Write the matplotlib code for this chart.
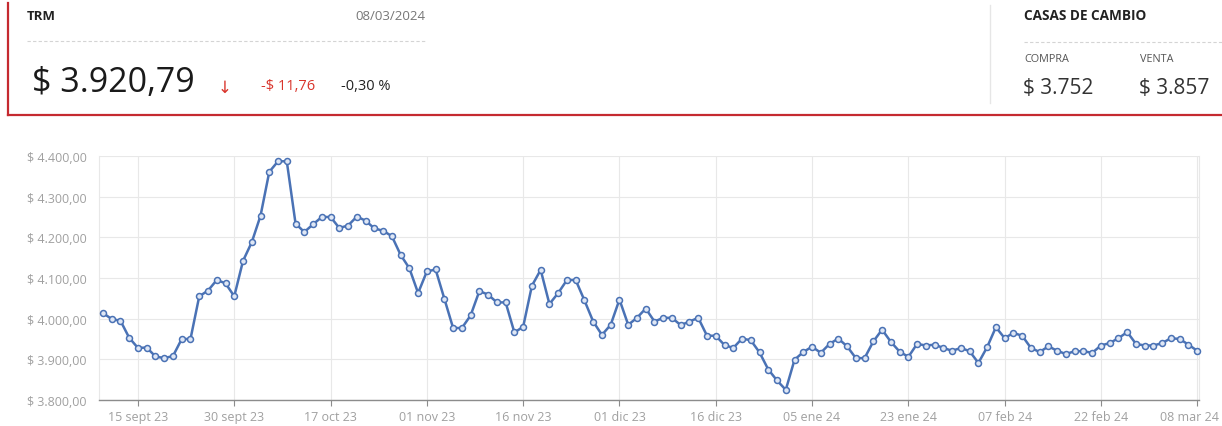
import matplotlib
matplotlib.use("Agg")
import matplotlib.pyplot as plt
from matplotlib.lines import Line2D
import matplotlib.transforms as mtransforms
import numpy as np

plt.rcParams['font.family'] = ['Open Sans', 'DejaVu Sans']

# ---- data ----
trm_values = [4014, 3999, 3995, 3953, 3928, 3929, 3907, 3903, 3908, 3950,
              3950, 4055, 4069, 4095, 4087, 4055, 4142, 4188, 4253, 4361,
              4387, 4387, 4234, 4213, 4232, 4250, 4250, 4223, 4229, 4251,
              4241, 4222, 4216, 4203, 4157, 4124, 4063, 4116, 4121, 4049,
              3977, 3977, 4008, 4068, 4059, 4040, 4040, 3966, 3980, 4081,
              4120, 4036, 4063, 4095, 4095, 4045, 3993, 3960, 3985, 4047,
              3985, 4002, 4025, 3993, 4002, 4002, 3984, 3993, 4002, 3958,
              3958, 3935, 3928, 3951, 3947, 3917, 3875, 3848, 3825, 3899,
              3918, 3931, 3916, 3938, 3951, 3932, 3903, 3903, 3944, 3973,
              3943, 3919, 3906, 3938, 3934, 3936, 3928, 3921, 3928, 3920,
              3891, 3930, 3979, 3952, 3965, 3958, 3928, 3918, 3932, 3921,
              3913, 3920, 3920, 3916, 3934, 3940, 3952, 3967, 3938, 3934,
              3934, 3940, 3952, 3950, 3936, 3921]
tick_labels = ["15 sept 23", "30 sept 23", "17 oct 23", "01 nov 23", "16 nov 23",
               "01 dic 23", "16 dic 23", "05 ene 24", "23 ene 24", "07 feb 24",
               "22 feb 24", "08 mar 24"]
first_tick = 4
tick_step = 11
y_ticks = [3800, 3900, 4000, 4100, 4200, 4300, 4400]

trm_title = "TRM"
trm_date = "08/03/2024"
trm_value = "$ 3.920,79"
trm_change = "-$ 11,76"
trm_pct = "-0,30 %"
casas_title = "CASAS DE CAMBIO"
compra_label, compra_value = "COMPRA", "$ 3.752"
venta_label, venta_value = "VENTA", "$ 3.857"

W, H = 1222, 427
fig = plt.figure(figsize=(W / 100, H / 100), dpi=100)

def fx(px):
    return px / W

def fy(py):
    return 1 - py / H

RED = "#c52a30"
# ---- header ----
fig.add_artist(Line2D([fx(8), fx(8)], [fy(4), fy(116)], color=RED, lw=1.6))
fig.add_artist(Line2D([fx(8), fx(1222)], [fy(116), fy(116)], color=RED, lw=1.6))
fig.add_artist(Line2D([fx(990), fx(990)], [fy(6), fy(104)], color="#e6e6e6", lw=1))
fig.add_artist(Line2D([fx(27), fx(425)], [fy(42), fy(42)], color="#d4d4d4", lw=0.8,
                      linestyle=(0, (3, 2))))
fig.add_artist(Line2D([fx(1024), fx(1222)], [fy(43), fy(43)], color="#d4d4d4", lw=0.8,
                      linestyle=(0, (3, 2))))

fig.text(fx(27), fy(16), trm_title, fontsize=9.5, fontweight="bold", color="#222222",
         va="center", ha="left")
fig.text(fx(425), fy(16), trm_date, fontsize=9.5, color="#777777", va="center", ha="right")
fig.text(fx(32), fy(83), trm_value, fontsize=24.5, color="#1a1a1a", va="center", ha="left")
fig.text(fx(225), fy(88), "\u2193", fontsize=12, color="#d9342b", va="center", ha="center",
         family=["DejaVu Sans"])
fig.text(fx(261), fy(87), trm_change, fontsize=10.5, color="#d9342b", va="center", ha="left")
fig.text(fx(341), fy(87), trm_pct, fontsize=10.5, color="#222222", va="center", ha="left")

fig.text(fx(1024), fy(16), casas_title, fontsize=9.8, fontweight="bold", color="#222222",
         va="center", ha="left")
fig.text(fx(1024), fy(60), compra_label, fontsize=7.8, color="#555555", va="center", ha="left")
fig.text(fx(1140), fy(60), venta_label, fontsize=7.8, color="#555555", va="center", ha="left")
fig.text(fx(1023), fy(89), compra_value, fontsize=15, color="#333333", va="center", ha="left")
fig.text(fx(1139), fy(89), venta_value, fontsize=15, color="#333333", va="center", ha="left")

# ---- chart ----
ax = fig.add_axes([fx(99), 1 - 401 / H, fx(1199) - fx(99), (401 - 157) / H])
x = np.arange(len(trm_values))
ax.plot(x, trm_values, color="#4a72b5", lw=1.8, marker="o", markersize=4.3,
        markerfacecolor="#dfe7f5", markeredgecolor="#4a72b5", markeredgewidth=1.1,
        zorder=3, clip_on=False)
ax.set_ylim(3800, 4400)
ax.set_xlim(-0.45, 125.2)
ax.set_yticks(y_ticks)
ax.set_yticklabels(["$ " + f"{v:,.2f}".replace(",", "X").replace(".", ",").replace("X", ".")
                    for v in y_ticks])
tick_pos = [first_tick + i * tick_step for i in range(len(tick_labels))]
ax.set_xticks(tick_pos)
ax.set_xticklabels(tick_labels)
ax.grid(True, color="#e8e8e8", lw=0.8, zorder=0)
ax.spines["top"].set_visible(False)
ax.spines["right"].set_color("#e8e8e8")
ax.spines["right"].set_linewidth(0.8)
ax.spines["left"].set_color("#e8e8e8")
ax.spines["left"].set_linewidth(0.8)
ax.spines["bottom"].set_color("#8c8c8c")
ax.spines["bottom"].set_linewidth(1.0)
ax.tick_params(axis="y", length=0, pad=9, labelsize=9, labelcolor="#a0a0a0")
ax.tick_params(axis="x", length=4, width=0.8, color="#8c8c8c", pad=3,
               labelsize=9, labelcolor="#a0a0a0")
ax.set_axisbelow(True)

# keep the last date label inside the image
last_lbl = ax.get_xticklabels()[-1]
last_lbl.set_transform(last_lbl.get_transform() +
                       mtransforms.ScaledTranslation(-8 / 100, 0, fig.dpi_scale_trans))

fig.savefig("out.png", dpi=100)
